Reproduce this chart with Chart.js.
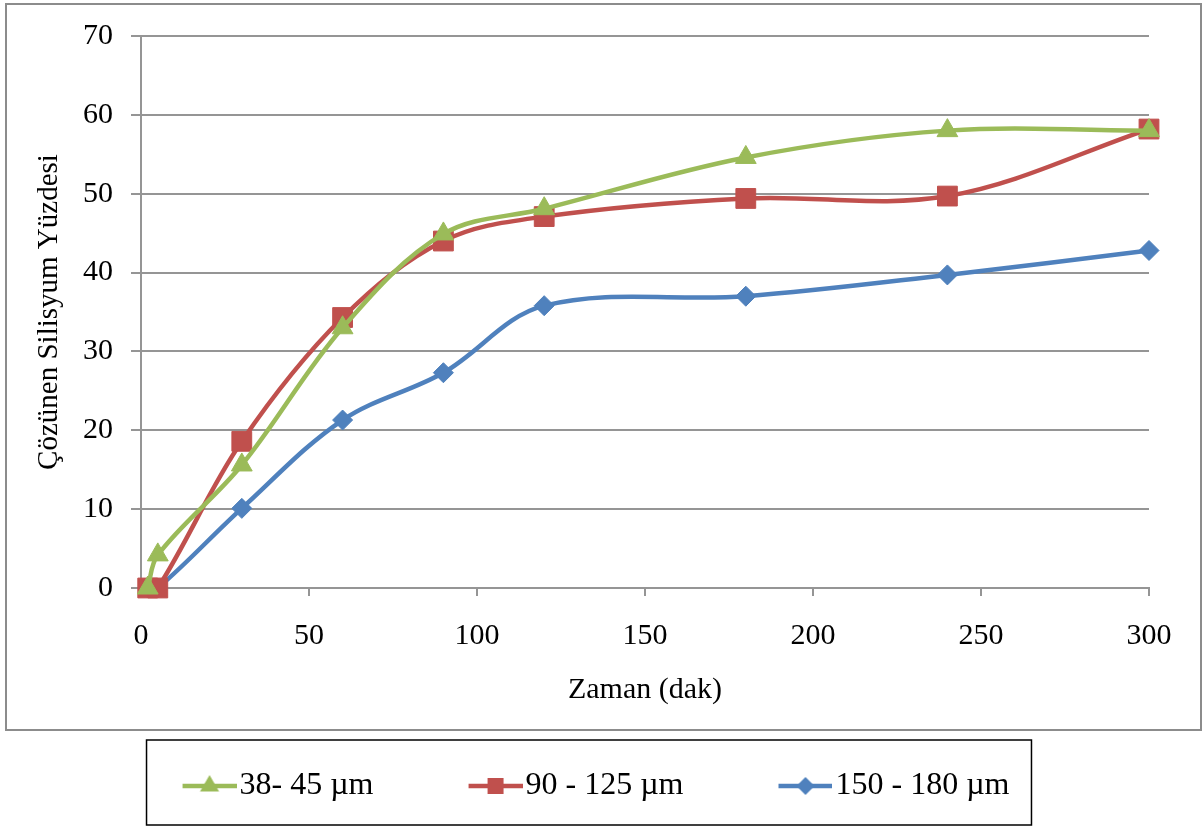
<!DOCTYPE html>
<html><head><meta charset="utf-8">
<script src="https://cdn.jsdelivr.net/npm/chart.js@4/dist/chart.umd.min.js"></script>
<style>html,body{margin:0;padding:0;background:#fff}canvas{display:block}</style>
</head><body>
<canvas id="c" width="1202" height="827"></canvas>
<script>
// ---- data ----
const timeMin = [2, 5, 30, 60, 90, 120, 180, 240, 300];
const series38_45 = [0, 4.2, 15.6, 33.0, 44.9, 48.1, 54.6, 58.0, 58.0];
const series90_125 = [0, 0, 18.6, 34.3, 44.0, 47.1, 49.4, 49.7, 58.2];
const series150_180 = [0, 0, 10.1, 21.3, 27.3, 35.8, 37.0, 39.7, 42.8];
const seriesLabels = ['38- 45 µm', '90 - 125 µm', '150 - 180 µm'];
const xTickValues = [0, 50, 100, 150, 200, 250, 300];
const yTickValues = [0, 10, 20, 30, 40, 50, 60, 70];
const xTitle = 'Zaman (dak)';
const yTitle = 'Çözünen Silisyum Yüzdesi';

// ---- styles ----
const FONT = "'Liberation Serif', 'Times New Roman', serif";
const GREEN = '#9BBB59', RED = '#C0504D', BLUE = '#4F81BD';
const GRID = '#959595';
const BOX_W = 84;

function legendIcon(color, shape) {
  const c = document.createElement('canvas');
  c.width = 110; c.height = 30;
  const g = c.getContext('2d');
  const y = 15, x0 = 56, x1 = 110, cx = 83;
  g.strokeStyle = color; g.lineWidth = 4.5;
  g.beginPath(); g.moveTo(x0, y); g.lineTo(x1, y); g.stroke();
  g.fillStyle = color;
  g.beginPath();
  if (shape === 'triangle') {
    const r = 11;
    g.moveTo(cx, y - r); g.lineTo(cx + r * 0.866, y + r / 2); g.lineTo(cx - r * 0.866, y + r / 2);
  } else if (shape === 'rect') {
    g.rect(cx - 8, y - 8, 16, 16);
  } else {
    const r = 9;
    g.moveTo(cx, y - r); g.lineTo(cx + r, y); g.lineTo(cx, y + r); g.lineTo(cx - r, y);
  }
  g.closePath(); g.fill();
  return c;
}
const icons = [legendIcon(GREEN, 'triangle'), legendIcon(RED, 'rect'), legendIcon(BLUE, 'diamond')];

function toPoints(ys) { return timeMin.map((t, i) => ({x: t, y: ys[i]})); }

function ds(label, ys, color, style, radius) {
  return {
    label, data: toPoints(ys),
    borderColor: color, backgroundColor: color,
    pointBackgroundColor: color, pointBorderColor: color, pointBorderWidth: 1,
    pointStyle: style, pointRadius: radius,
    borderWidth: 4.5, tension: 0.35, clip: false
  };
}

const framePlugin = {
  id: 'frame',
  beforeDraw(chart) {
    const {ctx, width} = chart;
    ctx.save();
    ctx.fillStyle = '#fff';
    ctx.fillRect(0, 0, chart.width, chart.height);
    const hb = chart.legend.legendHitBoxes;
    const cy = hb[0].top + hb[0].height / 2;
    ctx.strokeStyle = '#8c8c8c'; ctx.lineWidth = 2;
    ctx.strokeRect(6, 4, width - 7, cy - 56 - 4);
    ctx.strokeStyle = '#000'; ctx.lineWidth = 1.5;
    const l = hb[0].left + BOX_W + 16 - 93, r = hb[2].left + hb[2].width + 22;
    ctx.strokeRect(l, cy - 46, r - l, 85);
    ctx.restore();
  }
};

new Chart(document.getElementById('c'), {
  type: 'line',
  data: {
    datasets: [
      ds(seriesLabels[0], series38_45, GREEN, 'triangle', 12),
      ds(seriesLabels[1], series90_125, RED, 'rect', 14),
      ds(seriesLabels[2], series150_180, BLUE, 'rectRot', 10)
    ]
  },
  options: {
    responsive: false, animation: false, events: [],
    layout: {padding: {top: 35, left: 0, right: 53, bottom: 15}},
    plugins: {
      tooltip: {enabled: false},
      legend: {
        position: 'bottom',
        labels: {
          usePointStyle: true, pointStyleWidth: BOX_W, padding: 52,
          color: '#000', font: {family: FONT, size: 32},
          generateLabels: (chart) => Chart.defaults.plugins.legend.labels.generateLabels(chart)
            .map((l, i) => Object.assign(l, {pointStyle: icons[i]}))
        }
      }
    },
    scales: {
      x: {
        type: 'linear', min: 0, max: 300,
        afterBuildTicks: s => { s.ticks = xTickValues.map(v => ({value: v})); },
        afterFit: s => { s.height = 130; },
        grid: {drawOnChartArea: false, drawTicks: true, tickLength: 8, color: GRID, lineWidth: 2},
        border: {display: true, color: GRID, width: 2},
        ticks: {font: {family: FONT, size: 30}, color: '#000', padding: 22, maxRotation: 0},
        title: {display: true, text: xTitle, color: '#000', font: {family: FONT, size: 30}, padding: {top: 0, bottom: 10}}
      },
      y: {
        type: 'linear', min: 0, max: 70,
        afterBuildTicks: s => { s.ticks = yTickValues.map(v => ({value: v})); },
        afterFit: s => { s.width = 141; },
        grid: {color: GRID, lineWidth: 2, tickLength: 10},
        border: {display: true, color: GRID, width: 2},
        ticks: {font: {family: FONT, size: 30}, color: '#000', padding: 18},
        title: {display: true, text: yTitle, color: '#000', font: {family: FONT, size: 29}, padding: {top: 32, bottom: 0}}
      }
    }
  },
  plugins: [framePlugin]
});
</script>
</body></html>
